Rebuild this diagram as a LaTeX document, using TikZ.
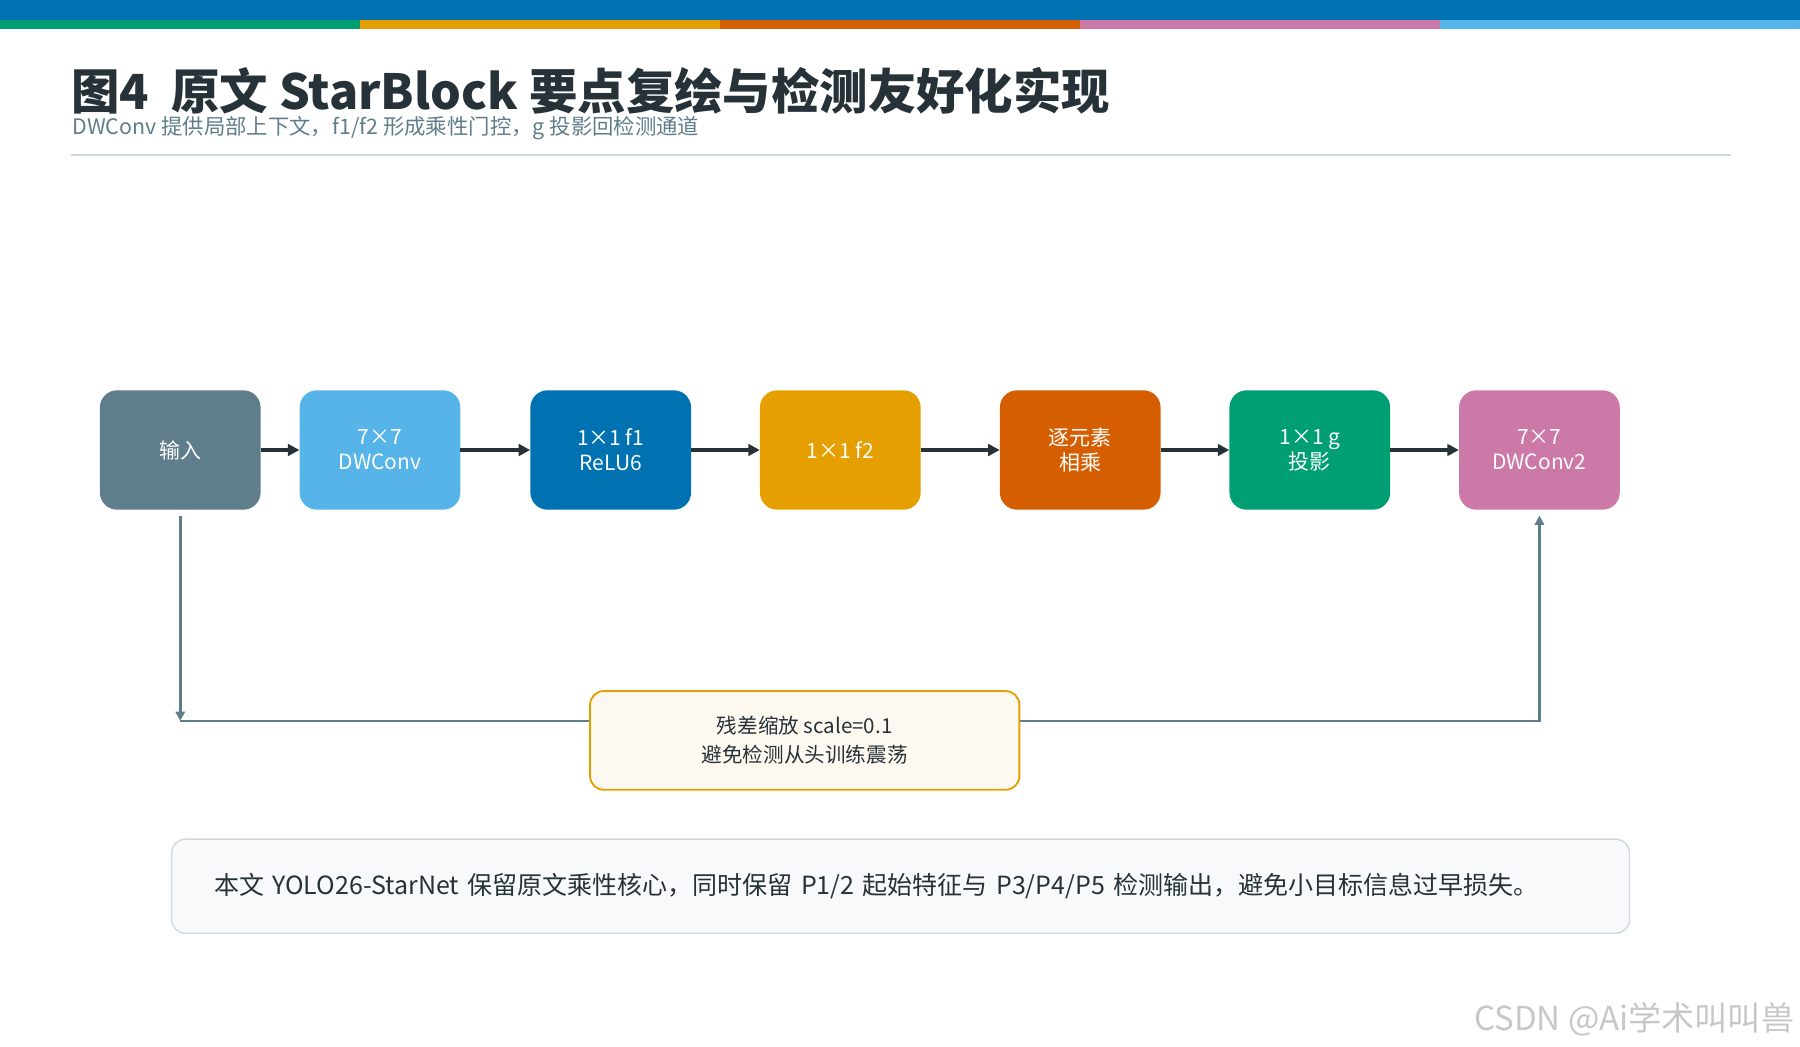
\documentclass[tikz,border=0pt]{standalone}
\usepackage{fontspec}
\setmainfont{Noto Sans CJK SC}
\usetikzlibrary{arrows.meta,positioning}
\definecolor{slate}{HTML}{607D8B}
\definecolor{skyb}{HTML}{56B4E9}
\definecolor{deepb}{HTML}{0072B2}
\definecolor{orng}{HTML}{E69F00}
\definecolor{verm}{HTML}{D55E00}
\definecolor{grn}{HTML}{009E73}
\definecolor{pnk}{HTML}{CC79A7}
\definecolor{ink}{HTML}{263238}
\definecolor{rule}{HTML}{CFD8DC}
\tikzset{
  block/.style={rectangle, rounded corners=7.5mm, minimum width=70mm, minimum height=52mm, text=white, align=center, font=\fontsize{26}{31}\selectfont, inner sep=0pt},
  flow/.style={ink, line width=1.5mm, -{Triangle[length=5mm,width=5mm]}},
  skip/.style={slate, line width=1.2mm},
}
\begin{document}
\begin{tikzpicture}[x=0.5mm,y=-0.5mm]
\useasboundingbox (0,0) rectangle (1568,912);
% top colour bar
\fill[deepb] (0,0) rectangle (1568,17);
\foreach \c [count=\i from 0] in {grn,orng,verm,pnk,skyb}
  \fill[\c] (313.6*\i,17) rectangle (313.6*\i+313.6,25);
% title
\node (title) [anchor=base west, inner sep=0pt, text=ink, font=\fontsize{60}{66}\selectfont\bfseries] at (62,95) {图4\ \ 原文 StarBlock 要点复绘与检测友好化实现};
\node (subtitle) [anchor=base west, inner sep=0pt, text=slate, font=\fontsize{26.5}{30}\selectfont] at (63,117) {DWConv 提供局部上下文，f1/f2 形成乘性门控，g 投影回检测通道};
\draw[rule, line width=1mm] (62,135) -- (1508,135);
% blocks
\node (in)   [block, fill=slate] at (157,392) {输入};
\node (dw)   [block, fill=skyb]  at (331,392) {7×7\\DWConv};
\node (f1)   [block, fill=deepb] at (532,392) {1×1 f1\\ReLU6};
\node (f2)   [block, fill=orng]  at (732,392) {1×1 f2};
\node (mul)  [block, fill=verm]  at (941,392) {逐元素\\相乘};
\node (g)    [block, fill=grn]   at (1141,392) {1×1 g\\投影};
\node (dw2)  [block, fill=pnk]   at (1341,392) {7×7\\DWConv2};
\draw[flow] (in) -- (dw);
\draw[flow] (dw) -- (f1);
\draw[flow] (f1) -- (f2);
\draw[flow] (f2) -- (mul);
\draw[flow] (mul) -- (g);
\draw[flow] (g) -- (dw2);
% residual path
\node (res) [rectangle, rounded corners=6mm, draw=orng, line width=0.8mm, fill=orng!6, minimum width=187mm, minimum height=43mm, align=center, text=ink, font=\fontsize{25.5}{36}\selectfont] at (701,645) {残差缩放 scale=0.1\\避免检测从头训练震荡};
\coordinate (c1) at (157,628);
\draw[skip, -{Triangle[length=4mm,width=4mm]}] ([yshift=-2.5mm]in.south) -- (c1);
\draw[skip] (c1) -- (c1 -| res.west);
\draw[skip, -{Triangle[length=4mm,width=4mm]}] (res.east |- c1) -| ([yshift=-2.5mm]dw2.south);
% footer note
\node (note) [rectangle, rounded corners=6mm, draw=rule, line width=0.6mm, fill=rule!15, minimum width=635mm, minimum height=41mm, inner xsep=0pt, text width=598mm, align=left, text=ink, font=\fontsize{31}{34}\selectfont] at (784.5,772) {本文 YOLO26-StarNet 保留原文乘性核心，同时保留 P1/2 起始特征与 P3/P4/P5 检测输出，避免小目标信息过早损失。};
% watermark
\node (mark) [anchor=base east, inner sep=0pt, text=black!22, font=\fontsize{41}{44}\selectfont] at (1563,898) {CSDN @Ai学术叫叫兽};
\end{tikzpicture}
\end{document}
